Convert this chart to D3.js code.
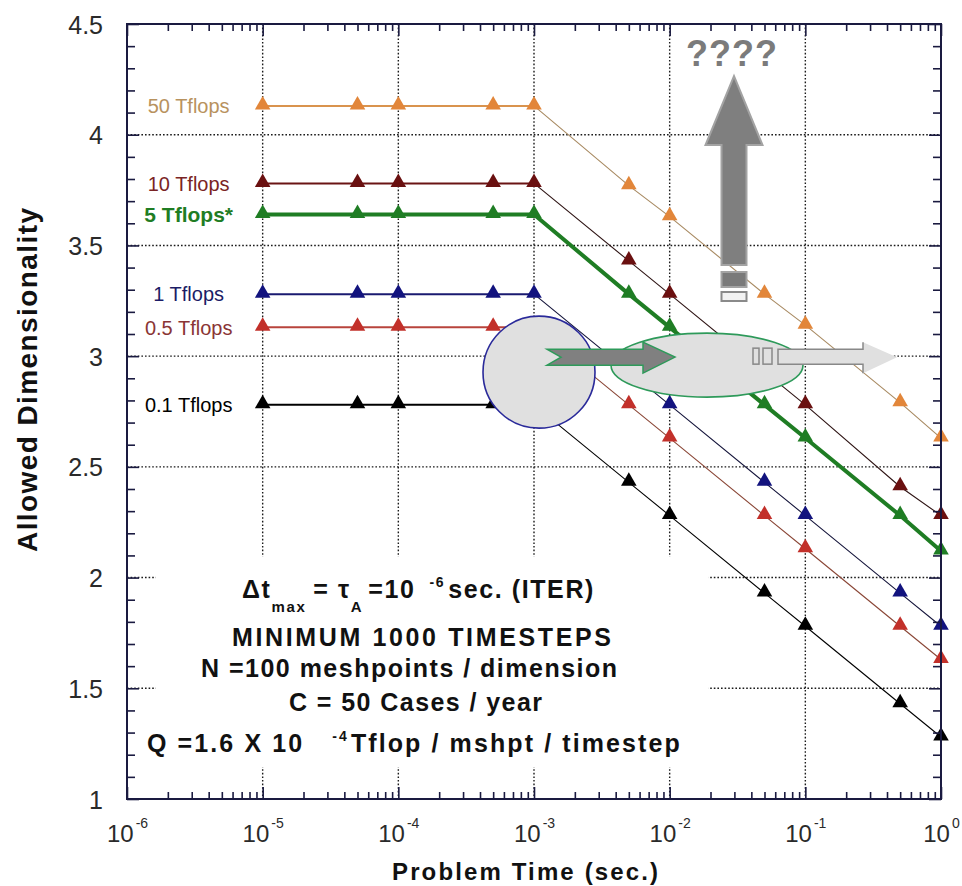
<!DOCTYPE html>
<html>
<head>
<meta charset="utf-8">
<script src="https://cdn.jsdelivr.net/npm/d3@7"></script>
<style>
body { margin: 0; background: #fff; }
svg { display: block; }
text { font-family: "Liberation Sans", Arial, Helvetica, sans-serif; }
</style>
</head>
<body>
<div id="chart"></div>
<script>
// problem time (sec.) for every point
var times = [1e-5, 5e-5, 1e-4, 5e-4, 1e-3, 5e-3, 1e-2, 5e-2, 1e-1, 5e-1, 1];

// allowed dimensionality per machine speed
var dim50  = [4.13, 4.13, 4.13, 4.13, 4.13, 3.77, 3.63, 3.28, 3.14, 2.79, 2.63];
var dim10  = [3.78, 3.78, 3.78, 3.78, 3.78, 3.43, 3.28, 2.93, 2.78, 2.41, 2.28];
var dim5   = [3.64, 3.64, 3.64, 3.64, 3.64, 3.28, 3.13, 2.78, 2.63, 2.28, 2.12];
var dim1   = [3.28, 3.28, 3.28, 3.28, 3.28, 2.93, 2.78, 2.43, 2.28, 1.93, 1.78];
var dim05  = [3.13, 3.13, 3.13, 3.13, 3.13, 2.78, 2.63, 2.28, 2.13, 1.78, 1.63];
var dim01  = [2.78, 2.78, 2.78, 2.78, 2.78, 2.43, 2.28, 1.93, 1.78, 1.43, 1.28];

var seriesNames = ["50 Tflops", "10 Tflops", "5 Tflops*", "1 Tflops", "0.5 Tflops", "0.1 Tflops"];
var seriesValues = [dim50, dim10, dim5, dim1, dim05, dim01];

// axis ticks
var xTickExps = [-6, -5, -4, -3, -2, -1, 0];
var yTicks = [1, 1.5, 2, 2.5, 3, 3.5, 4, 4.5];
var yTickLabels = ["1", "1.5", "2", "2.5", "3", "3.5", "4", "4.5"];

// styles (index follows seriesNames)
var markerColor = ["#e2863a", "#6a1010", "#1f7d24", "#12137e", "#c2302a", "#000000"];
var flatColor   = ["#d9934e", "#6a1414", "#1f7d24", "#1a1a70", "#b8443c", "#000000"];
var slopeColor  = ["#a88a62", "#2e1414", "#1f7d24", "#14143a", "#8a4636", "#000000"];
var labelColor  = ["#b8925e", "#7a2424", "#1f7d24", "#1c1c66", "#8a3535", "#000000"];

var width = 962, height = 886;
var margin = {top: 24, right: 21, bottom: 87, left: 127};
var axisColor = "#1a1a40";

var svg = d3.select("#chart").append("svg")
    .attr("width", width)
    .attr("height", height);

svg.append("rect").attr("width", width).attr("height", height).attr("fill", "#fff");

var x = d3.scaleLog().domain([1e-6, 1]).range([margin.left, width - margin.right]);
var y = d3.scaleLinear().domain([1, 4.5]).range([height - margin.bottom, margin.top]);

var x0 = x.range()[0], x1 = x.range()[1], y0 = y.range()[0], y1 = y.range()[1];

// grid lines, dotted
var xMajor = xTickExps.map(function(e) { return Math.pow(10, e); });
var xMinor = [];
xTickExps.slice(0, -1).forEach(function(e) {
    d3.range(2, 10).forEach(function(k) { xMinor.push(k * Math.pow(10, e)); });
});
var yMinor = d3.range(11, 45).filter(function(i) { return i % 5 != 0; }).map(function(i) { return i / 10; });

var grid = svg.append("g").attr("stroke", "#1a1a1a").attr("stroke-width", 1.4).attr("stroke-dasharray", "1.6,2");
grid.selectAll(".gx").data(xMajor.slice(1, -1)).enter().append("line")
    .attr("x1", function(d) { return x(d); }).attr("x2", function(d) { return x(d); })
    .attr("y1", y1).attr("y2", y0);
grid.selectAll(".gy").data(yTicks.slice(1, -1)).enter().append("line")
    .attr("y1", function(d) { return y(d); }).attr("y2", function(d) { return y(d); })
    .attr("x1", x0).attr("x2", x1);

// white box behind the notes
svg.append("rect")
    .attr("x", x0 + 29).attr("y", y(2) - 21)
    .attr("width", x(1e-2) + 39 - (x0 + 29))
    .attr("height", (y(1) - 32) - (y(2) - 21))
    .attr("fill", "#fff");

// notes
var notes = svg.append("g").attr("font-weight", "bold").attr("font-size", 25).attr("fill", "#111");

var t1 = notes.append("text").attr("x", 242).attr("y", 598).attr("letter-spacing", 1.6);
t1.append("tspan").text("\u0394t");
t1.append("tspan").attr("font-size", 15).attr("dy", 14).text("max");
t1.append("tspan").attr("dy", -14).attr("dx", 7).text("=  \u03c4");
t1.append("tspan").attr("font-size", 15).attr("dy", 14).text("A");
t1.append("tspan").attr("dy", -14).attr("dx", 5).text("=10");
t1.append("tspan").attr("font-size", 14).attr("dy", -11).attr("dx", 14).text("-6");
t1.append("tspan").attr("dy", 11).attr("dx", 3).text("sec. (ITER)");

notes.append("text").attr("x", 232).attr("y", 646)
    .attr("textLength", 379).attr("lengthAdjust", "spacing")
    .text("MINIMUM 1000 TIMESTEPS");
notes.append("text").attr("x", 201).attr("y", 677)
    .attr("textLength", 416).attr("lengthAdjust", "spacing")
    .text("N =100 meshpoints / dimension");
notes.append("text").attr("x", 289).attr("y", 711)
    .attr("textLength", 253).attr("lengthAdjust", "spacing")
    .text("C = 50 Cases / year");

var t5 = notes.append("text").attr("x", 147).attr("y", 752).attr("letter-spacing", 2.1);
t5.append("tspan").text("Q =1.6 X 10");
t5.append("tspan").attr("font-size", 14).attr("dy", -11).attr("dx", 28).text("-4");
t5.append("tspan").attr("dy", 11).attr("dx", 2).text("Tflop / mshpt / timestep");

// data lines
var line = d3.line()
    .x(function(d) { return x(d[0]); })
    .y(function(d) { return y(d[1]); });

var marker = d3.symbol().type(d3.symbolTriangle).size(105);

seriesValues.forEach(function(vals, i) {
    var pts = times.map(function(t, j) { return [t, vals[j]]; });
    var flat = pts.slice(0, 5), slope = pts.slice(4);
    var bold = i == 2;
    var g = svg.append("g");
    g.append("path").datum(flat).attr("d", line)
        .attr("fill", "none").attr("stroke", flatColor[i]).attr("stroke-width", bold ? 4 : 2);
    g.append("path").datum(slope).attr("d", line)
        .attr("fill", "none").attr("stroke", slopeColor[i]).attr("stroke-width", bold ? 4 : 1.1);
    g.selectAll(".m").data(pts).enter().append("path")
        .attr("d", marker)
        .attr("transform", function(d) { return "translate(" + x(d[0]) + "," + (y(d[1]) - 1) + ")"; })
        .attr("fill", markerColor[i]);
    g.append("text")
        .attr("x", x(times[0]) - 74)
        .attr("y", y(vals[0]))
        .attr("dy", "0.36em")
        .attr("text-anchor", "middle")
        .attr("font-size", bold ? 21 : 20)
        .attr("font-weight", bold ? "bold" : "normal")
        .attr("fill", labelColor[i])
        .text(seriesNames[i]);
});

// overlay drawing: circle, ellipse and arrows
var ax = x(1e-3), ay = y(3);
var over = svg.append("g");

over.append("circle")
    .attr("cx", ax + 5).attr("cy", ay + 16).attr("r", 56)
    .attr("fill", "#e0e0e0").attr("stroke", "#2a2a9a").attr("stroke-width", 1.6);

over.append("ellipse")
    .attr("cx", ax + 173).attr("cy", ay + 9).attr("rx", 96).attr("ry", 32)
    .attr("fill", "#e0e0e0").attr("stroke", "#2e9a5a").attr("stroke-width", 1.6);

var cy = ay + 1;
over.append("path")
    .attr("d", d3.line()([
        [ax + 13, cy - 8], [ax + 109, cy - 8], [ax + 109, cy - 15], [ax + 141, cy],
        [ax + 109, cy + 16], [ax + 109, cy + 8], [ax + 13, cy + 8], [ax + 27, cy]
    ]) + "Z")
    .attr("fill", "#808080").attr("stroke", "#2e9a5a").attr("stroke-width", 1.5);

over.append("rect").attr("x", ax + 219).attr("y", cy - 9).attr("width", 6).attr("height", 16)
    .attr("fill", "#e0e0e0").attr("stroke", "#888").attr("stroke-width", 1.5);
over.append("rect").attr("x", ax + 229).attr("y", cy - 9).attr("width", 9).attr("height", 16)
    .attr("fill", "#e0e0e0").attr("stroke", "#888").attr("stroke-width", 1.5);
over.append("path")
    .attr("d", d3.line()([
        [ax + 244, cy - 8], [ax + 329, cy - 8], [ax + 329, cy - 15], [ax + 363, cy],
        [ax + 329, cy + 16], [ax + 329, cy + 7], [ax + 244, cy + 7]
    ]) + "Z")
    .attr("fill", "#e0e0e0");
over.append("path")
    .attr("d", d3.line()([
        [ax + 329, cy - 15], [ax + 329, cy - 8], [ax + 244, cy - 8],
        [ax + 244, cy + 7], [ax + 329, cy + 7], [ax + 329, cy + 16]
    ]))
    .attr("fill", "none").attr("stroke", "#888").attr("stroke-width", 1.5);

// the up arrow with its question marks
var ux = ax + 200, topY = y1;
over.append("path")
    .attr("d", d3.line()([
        [ux - 12.5, topY + 241], [ux - 12.5, topY + 121], [ux - 28.5, topY + 121], [ux, topY + 52],
        [ux + 28.5, topY + 121], [ux + 12.5, topY + 121], [ux + 12.5, topY + 241]
    ]) + "Z")
    .attr("fill", "#7f7f7f").attr("stroke", "#a3a3a3").attr("stroke-width", 2);
over.append("rect").attr("x", ux - 12.5).attr("y", topY + 248).attr("width", 25).attr("height", 15)
    .attr("fill", "#7a7a7a").attr("stroke", "#a3a3a3").attr("stroke-width", 2);
over.append("rect").attr("x", ux - 12.5).attr("y", topY + 268).attr("width", 25).attr("height", 9)
    .attr("fill", "#f2f2f2").attr("stroke", "#8a8a8a").attr("stroke-width", 2);
over.append("text")
    .attr("x", ux - 2).attr("y", topY + 42)
    .attr("text-anchor", "middle")
    .attr("font-size", 36).attr("font-weight", "bold")
    .attr("letter-spacing", 1)
    .attr("fill", "#7b7b7b")
    .text("????");

// frame
svg.append("rect")
    .attr("x", x0).attr("y", y1).attr("width", x1 - x0).attr("height", y0 - y1)
    .attr("fill", "none").attr("stroke", axisColor).attr("stroke-width", 2);

// inward ticks on all four sides
function tickRow(axis, translate, values, size) {
    svg.append("g")
        .attr("transform", translate)
        .call(axis.tickValues(values).tickSize(size).tickSizeOuter(0).tickFormat(""))
        .call(function(g) { g.select(".domain").remove(); })
        .call(function(g) { g.selectAll("line").attr("stroke", axisColor).attr("stroke-width", 1.6); });
}
tickRow(d3.axisBottom(x), "translate(0," + y0 + ")", xMajor, -12);
tickRow(d3.axisBottom(x), "translate(0," + y0 + ")", xMinor, -7);
tickRow(d3.axisTop(x), "translate(0," + y1 + ")", xMajor, -12);
tickRow(d3.axisTop(x), "translate(0," + y1 + ")", xMinor, -7);
tickRow(d3.axisLeft(y), "translate(" + x0 + ",0)", yTicks, -12);
tickRow(d3.axisLeft(y), "translate(" + x0 + ",0)", yMinor, -8);
tickRow(d3.axisRight(y), "translate(" + x1 + ",0)", yTicks, -12);
tickRow(d3.axisRight(y), "translate(" + x1 + ",0)", yMinor, -8);

// y tick labels
svg.append("g")
    .attr("transform", "translate(" + x0 + ",0)")
    .call(d3.axisLeft(y).tickValues(yTicks).tickSize(0).tickPadding(24)
        .tickFormat(function(d, i) { return yTickLabels[i]; }))
    .call(function(g) { g.select(".domain").remove(); })
    .call(function(g) {
        g.selectAll("text")
            .attr("font-family", "'Liberation Sans', Arial, sans-serif")
            .attr("font-size", 25).attr("fill", "#2a2a2a").attr("dy", "0.36em");
    });

// x tick labels: 10 with superscript exponent
var xl = svg.append("g")
    .attr("transform", "translate(0," + y0 + ")")
    .call(d3.axisBottom(x).tickValues(xMajor).tickSize(0).tickFormat(""))
    .call(function(g) { g.select(".domain").remove(); });
xl.selectAll(".tick").append("text")
    .attr("y", 43)
    .attr("text-anchor", "middle")
    .attr("fill", "#2a2a2a")
    .attr("font-family", "'Liberation Sans', Arial, sans-serif")
    .each(function(d, i) {
        var t = d3.select(this);
        t.append("tspan").attr("font-size", 24).text("10");
        t.append("tspan").attr("font-size", 14).attr("dy", -14).attr("dx", 2).text(String(xTickExps[i]));
    });

// axis titles
svg.append("text")
    .attr("x", (x0 + x1) / 2 - 9).attr("y", 880)
    .attr("text-anchor", "middle")
    .attr("font-size", 24).attr("font-weight", "bold")
    .attr("textLength", 266).attr("lengthAdjust", "spacing")
    .attr("fill", "#111")
    .text("Problem Time (sec.)");

svg.append("text")
    .attr("transform", "translate(37,380) rotate(-90)")
    .attr("text-anchor", "middle")
    .attr("font-size", 28).attr("font-weight", "bold")
    .attr("textLength", 344).attr("lengthAdjust", "spacing")
    .attr("fill", "#111")
    .text("Allowed Dimensionality");
</script>
</body>
</html>
